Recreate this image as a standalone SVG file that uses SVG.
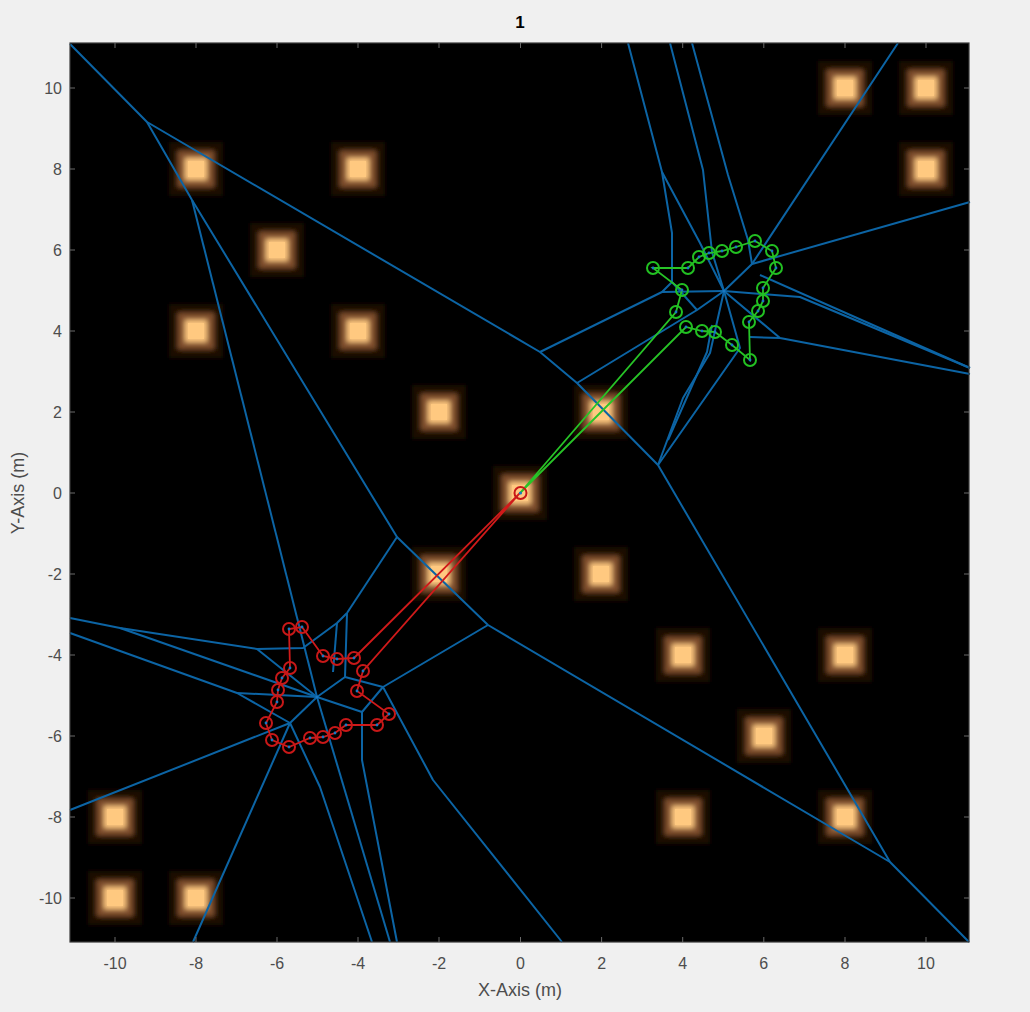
<svg xmlns="http://www.w3.org/2000/svg" xmlns:xlink="http://www.w3.org/1999/xlink" width="1030" height="1012" viewBox="0 0 1030 1012">
<style>
.vor{fill:none;stroke:#0c64a4;stroke-width:2;stroke-linejoin:round}
.rp{fill:none;stroke:#d01a1a;stroke-width:1.8}
.gp{fill:none;stroke:#27c427;stroke-width:1.8}
.rm{fill:none;stroke:#c81818;stroke-width:2}
.gm{fill:none;stroke:#22c022;stroke-width:2}
.dot{fill:#1a78c2}
.tick{stroke:#6a6a6a;stroke-width:1}
.tl{font-family:"Liberation Sans",Arial,sans-serif;font-size:16px;fill:#4d4d4d}
.al{font-family:"Liberation Sans",Arial,sans-serif;font-size:18px;fill:#4d4d4d}
</style>
<defs>
<filter id="soft" x="-50%" y="-50%" width="200%" height="200%"><feGaussianBlur stdDeviation="2.6"/></filter>
<g id="glow">
<g filter="url(#soft)">
<rect x="-27" y="-27" width="54" height="54" fill="#1e0f06"/>
<rect x="-18" y="-18" width="36" height="36" fill="#80502f"/>
<rect x="-11" y="-11" width="22" height="22" fill="#fdc67e"/>
</g>
<rect x="-8" y="-8" width="16" height="16" fill="#ffc980"/>
</g>
</defs>
<rect width="1030" height="1012" fill="#f0f0f0"/>
<text x="520" y="28" text-anchor="middle" font-family="Liberation Sans, Arial, sans-serif" font-size="17" font-weight="bold" fill="#000">1</text>
<rect x="70" y="43" width="899" height="899" fill="#000"/>
<g id="lamps">
<g id="lamp1"><use xlink:href="#glow" x="196" y="169"/></g>
<g id="lamp2"><use xlink:href="#glow" x="358" y="169"/></g>
<g id="lamp3"><use xlink:href="#glow" x="277" y="250"/></g>
<g id="lamp4"><use xlink:href="#glow" x="196" y="331"/></g>
<g id="lamp5"><use xlink:href="#glow" x="358" y="331"/></g>
<g id="lamp6"><use xlink:href="#glow" x="439" y="412"/></g>
<g id="lamp7"><use xlink:href="#glow" x="601" y="412"/></g>
<g id="lamp8"><use xlink:href="#glow" x="520" y="493"/></g>
<g id="lamp9"><use xlink:href="#glow" x="439" y="574"/></g>
<g id="lamp10"><use xlink:href="#glow" x="601" y="574"/></g>
<g id="lamp11"><use xlink:href="#glow" x="683" y="655"/></g>
<g id="lamp12"><use xlink:href="#glow" x="845" y="655"/></g>
<g id="lamp13"><use xlink:href="#glow" x="764" y="736"/></g>
<g id="lamp14"><use xlink:href="#glow" x="683" y="817"/></g>
<g id="lamp15"><use xlink:href="#glow" x="845" y="817"/></g>
<g id="lamp16"><use xlink:href="#glow" x="115" y="817"/></g>
<g id="lamp17"><use xlink:href="#glow" x="115" y="898"/></g>
<g id="lamp18"><use xlink:href="#glow" x="196" y="898"/></g>
<g id="lamp19"><use xlink:href="#glow" x="845" y="88"/></g>
<g id="lamp20"><use xlink:href="#glow" x="926" y="88"/></g>
<g id="lamp21"><use xlink:href="#glow" x="926" y="169"/></g>
</g>
<g id="connectors">
<g id="voronoi" class="vor">
<path d="M70,44 L147,122 L540,352 L577,383 L658,465 L890,862 L969,942"/>
<path d="M147,122 L192,200 L397,537 L488,625 L890,862"/>
<path d="M192,200 L317,697"/>
<path d="M397,537 L347,613"/>
<path d="M488,625 L383,687 L433,780 L562,942"/>
<path d="M540,352 L662,292"/>
<path d="M577,383 L697,310 L724,291"/>
<path d="M70,618 L120,628 L257,649 L303,648 L337,623 L347,613"/>
<path d="M120,628 L317,697"/>
<path d="M257,649 L317,697"/>
<path d="M70,633 L237,693 L290,723"/>
<path d="M237,693 L317,697"/>
<path d="M290,723 L317,697"/>
<path d="M70,810 L290,723 L193,942"/>
<path d="M290,723 L320,787 L372,942"/>
<path d="M317,697 L390,942"/>
<path d="M347,613 L345,677 L317,697"/>
<path d="M337,623 L333,672"/>
<path d="M345,677 L383,687"/>
<path d="M317,697 L362,712 L383,687"/>
<path d="M362,712 L362,760 L397,942"/>
<path d="M628,43 L662,172 L672,233 L672,282 L662,292 L724,291"/>
<path d="M662,172 L700,243 L724,291"/>
<path d="M670,43 L703,170 L712,252 L724,291"/>
<path d="M692,43 L728,175 L748,240 L752,264"/>
<path d="M898,43 L752,264 L724,291"/>
<path d="M970,202 L752,264"/>
<path d="M724,291 L800,297 L970,368"/>
<path d="M724,291 L780,338 L970,374"/>
<path d="M750,337 L780,338"/>
<path d="M724,291 L710,353 L683,398 L658,465"/>
<path d="M658,465 L740,348 L724,291"/>
<path d="M672,282 L697,310"/>
<path d="M668,440 L707,352 L712,325"/>
<path d="M760,275 L970,368"/>
</g>
<polyline id="red-path" class="rp" points="520,493 363,671 357,691 389,714 377,725 346,725 335,733 323,737 310,738 289,747 272,740 266,723 277,702 278,690 282,678 290,668 289,629 302,627 323,656 337,659 354,658 520,493"/>
<polyline id="green-path" class="gp" points="520,493 686,327 702,331 715,332 732,345 750,360 749,322 758,311 763,301 763,288 776,268 772,251 755,241 736,247 722,251 709,253 699,257 688,268 653,268 682,290 676,312 520,493"/>
</g>
<g id="red-markers">
<circle class="rm" cx="520.5" cy="493" r="6"/>
<circle class="rm" cx="363" cy="671" r="6"/><circle class="rm" cx="357" cy="691" r="6"/><circle class="rm" cx="389" cy="714" r="6"/><circle class="rm" cx="377" cy="725" r="6"/><circle class="rm" cx="346" cy="725" r="6"/><circle class="rm" cx="335" cy="733" r="6"/><circle class="rm" cx="323" cy="737" r="6"/><circle class="rm" cx="310" cy="738" r="6"/><circle class="rm" cx="289" cy="747" r="6"/><circle class="rm" cx="272" cy="740" r="6"/><circle class="rm" cx="266" cy="723" r="6"/><circle class="rm" cx="277" cy="702" r="6"/><circle class="rm" cx="278" cy="690" r="6"/><circle class="rm" cx="282" cy="678" r="6"/><circle class="rm" cx="290" cy="668" r="6"/><circle class="rm" cx="289" cy="629" r="6"/><circle class="rm" cx="302" cy="627" r="6"/><circle class="rm" cx="323" cy="656" r="6"/><circle class="rm" cx="337" cy="659" r="6"/><circle class="rm" cx="354" cy="658" r="6"/>
</g>
<g id="green-markers">
<circle class="gm" cx="686" cy="327" r="6"/><circle class="gm" cx="702" cy="331" r="6"/><circle class="gm" cx="715" cy="332" r="6"/><circle class="gm" cx="732" cy="345" r="6"/><circle class="gm" cx="750" cy="360" r="6"/><circle class="gm" cx="749" cy="322" r="6"/><circle class="gm" cx="758" cy="311" r="6"/><circle class="gm" cx="763" cy="301" r="6"/><circle class="gm" cx="763" cy="288" r="6"/><circle class="gm" cx="776" cy="268" r="6"/><circle class="gm" cx="772" cy="251" r="6"/><circle class="gm" cx="755" cy="241" r="6"/><circle class="gm" cx="736" cy="247" r="6"/><circle class="gm" cx="722" cy="251" r="6"/><circle class="gm" cx="709" cy="253" r="6"/><circle class="gm" cx="699" cy="257" r="6"/><circle class="gm" cx="688" cy="268" r="6"/><circle class="gm" cx="653" cy="268" r="6"/><circle class="gm" cx="682" cy="290" r="6"/><circle class="gm" cx="676" cy="312" r="6"/>
</g>
<g id="sites" class="dot">
<circle cx="520.5" cy="493" r="1.6"/><circle cx="317" cy="697" r="1.6"/><circle cx="724" cy="291" r="1.6"/>
<circle cx="363" cy="671" r="1.4"/><circle cx="357" cy="691" r="1.4"/><circle cx="389" cy="714" r="1.4"/><circle cx="377" cy="725" r="1.4"/><circle cx="346" cy="725" r="1.4"/><circle cx="335" cy="733" r="1.4"/><circle cx="323" cy="737" r="1.4"/><circle cx="310" cy="738" r="1.4"/><circle cx="289" cy="747" r="1.4"/><circle cx="272" cy="740" r="1.4"/><circle cx="266" cy="723" r="1.4"/><circle cx="277" cy="702" r="1.4"/><circle cx="278" cy="690" r="1.4"/><circle cx="282" cy="678" r="1.4"/><circle cx="290" cy="668" r="1.4"/><circle cx="289" cy="629" r="1.4"/><circle cx="302" cy="627" r="1.4"/><circle cx="323" cy="656" r="1.4"/><circle cx="337" cy="659" r="1.4"/><circle cx="354" cy="658" r="1.4"/>
<circle cx="686" cy="327" r="1.4"/><circle cx="702" cy="331" r="1.4"/><circle cx="715" cy="332" r="1.4"/><circle cx="732" cy="345" r="1.4"/><circle cx="750" cy="360" r="1.4"/><circle cx="749" cy="322" r="1.4"/><circle cx="758" cy="311" r="1.4"/><circle cx="763" cy="301" r="1.4"/><circle cx="763" cy="288" r="1.4"/><circle cx="776" cy="268" r="1.4"/><circle cx="772" cy="251" r="1.4"/><circle cx="755" cy="241" r="1.4"/><circle cx="736" cy="247" r="1.4"/><circle cx="722" cy="251" r="1.4"/><circle cx="709" cy="253" r="1.4"/><circle cx="699" cy="257" r="1.4"/><circle cx="688" cy="268" r="1.4"/><circle cx="653" cy="268" r="1.4"/><circle cx="682" cy="290" r="1.4"/><circle cx="676" cy="312" r="1.4"/>
</g>
<g id="axes">
<rect x="70" y="43" width="899" height="899" fill="none" stroke="#3a3a3a" stroke-width="1.2"/>
<path class="tick" d="M115,942v-5M196,942v-5M277,942v-5M358,942v-5M439,942v-5M520.5,942v-5M601.6,942v-5M682.7,942v-5M763.8,942v-5M845,942v-5M926,942v-5M115,43v5M196,43v5M277,43v5M358,43v5M439,43v5M520.5,43v5M601.6,43v5M682.7,43v5M763.8,43v5M845,43v5M926,43v5M70,88h5M70,169h5M70,250h5M70,331h5M70,412h5M70,493h5M70,574h5M70,655h5M70,736h5M70,817h5M70,898h5M969,88h-5M969,169h-5M969,250h-5M969,331h-5M969,412h-5M969,493h-5M969,574h-5M969,655h-5M969,736h-5M969,817h-5M969,898h-5"/>
<g class="tl" text-anchor="end">
<text x="62" y="94">10</text><text x="62" y="175">8</text><text x="62" y="256">6</text><text x="62" y="337">4</text><text x="62" y="418">2</text><text x="62" y="499">0</text><text x="62" y="580">-2</text><text x="62" y="661">-4</text><text x="62" y="742">-6</text><text x="62" y="823">-8</text><text x="62" y="904">-10</text>
</g>
<g class="tl" text-anchor="middle">
<text x="115" y="969">-10</text><text x="196" y="969">-8</text><text x="277" y="969">-6</text><text x="358" y="969">-4</text><text x="439" y="969">-2</text><text x="520.5" y="969">0</text><text x="601.6" y="969">2</text><text x="682.7" y="969">4</text><text x="763.8" y="969">6</text><text x="845" y="969">8</text><text x="926" y="969">10</text>
</g>
<text class="al" x="520" y="996" text-anchor="middle">X-Axis (m)</text>
<text class="al" transform="translate(24,493) rotate(-90)" text-anchor="middle">Y-Axis (m)</text>
</g>
</svg>
